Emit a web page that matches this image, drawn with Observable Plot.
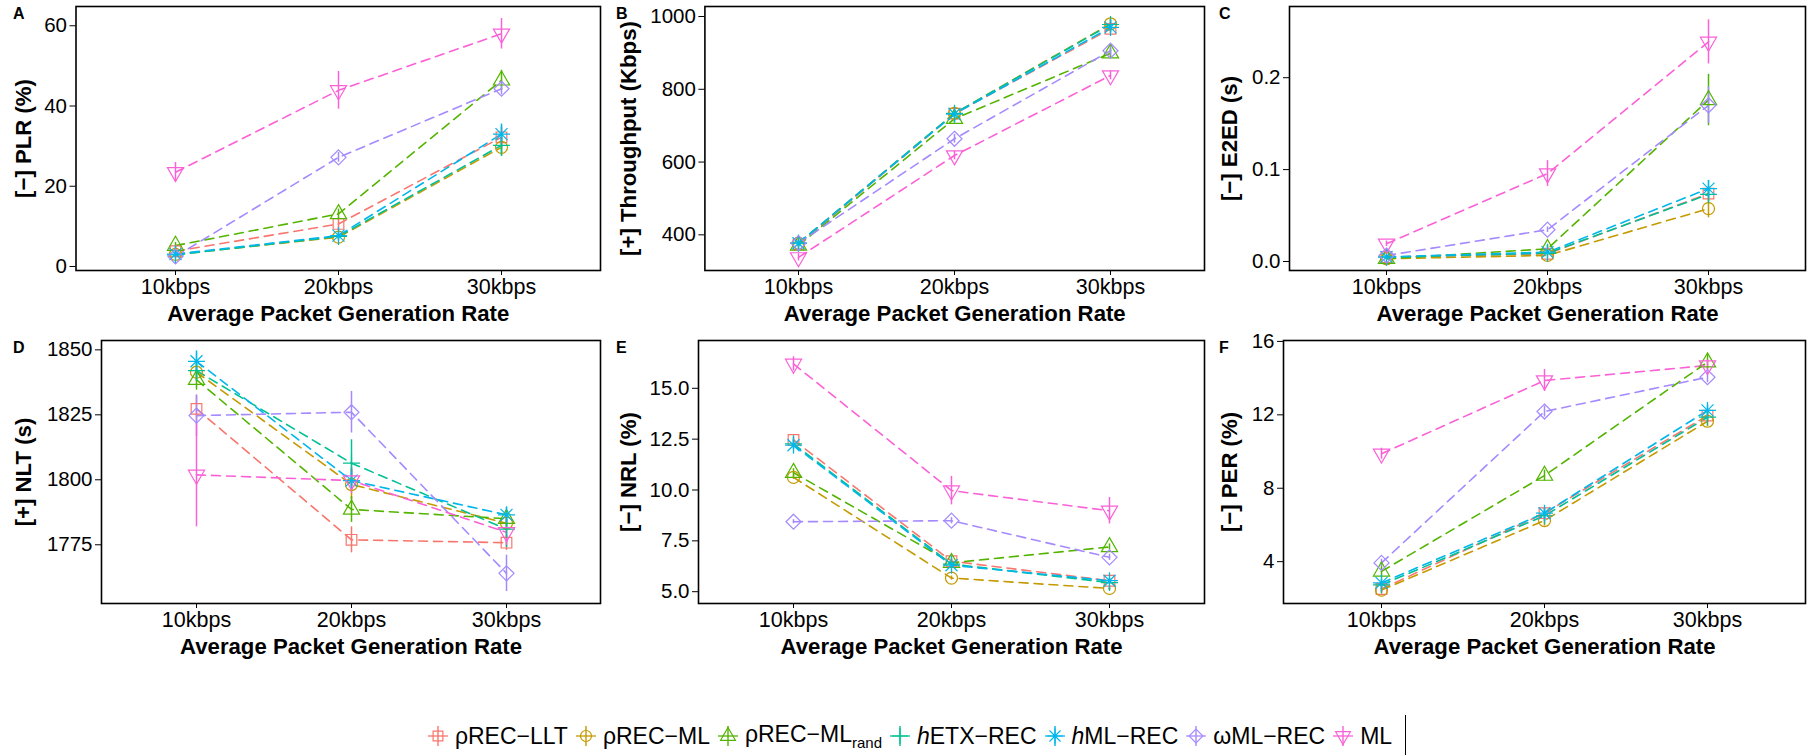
<!DOCTYPE html>
<html><head><meta charset="utf-8">
<script src="https://cdn.jsdelivr.net/npm/d3@7"></script>
<script src="https://cdn.jsdelivr.net/npm/@observablehq/plot@0.6"></script>
<style>
body{margin:0;background:#fff;font-family:"Liberation Sans",Arial,sans-serif;}
#root{position:relative;width:1809px;height:755px;overflow:hidden;background:#fff;}
.panel{position:absolute;}
.letter{position:absolute;font-weight:bold;font-size:16px;line-height:16px;}
svg text{font-family:"Liberation Sans",Arial,sans-serif;}
g[aria-label="x-axis tick label"] text{font-size:21.5px;}
g[aria-label="y-axis tick label"] text{font-size:20.5px;}
g[aria-label="y-axis label"] text, g[aria-label="x-axis label"] text{font-weight:bold;font-size:22.2px;}
#legend{position:absolute;top:716px;left:0;width:1834px;height:40px;display:flex;justify-content:center;align-items:center;font-size:23px;}
.item{display:flex;align-items:center;margin-right:8px;}
.item svg{margin-right:7px;}
.vbar{width:0;height:42px;border-left:1.3px solid #000;margin-left:5px;}
sub{font-size:15px;vertical-align:-6px;}
</style></head>
<body><div id="root"><div id="legend"></div></div>
<script>
const rates = ["10kbps","20kbps","30kbps"];
const series = ["ρREC-LLT","ρREC-ML","ρREC-MLrand","hETX-REC","hML-REC","ωML-REC","ML"];
const colors = ["#F8766D","#C49A00","#53B400","#00C094","#00B6EB","#A58AFF","#FB61D7"];
const legendLabels = ["ρREC−LLT","ρREC−ML","ρREC−ML<sub>rand</sub>","<i>h</i>ETX−REC","<i>h</i>ML−REC","ωML−REC","ML"];

// rows follow series order; columns follow rates
const plrMean = [[3.8,10.6,32.2],[3.0,7.3,29.7],[5.2,13.1,46.4],[2.9,7.5,30.2],[3.1,7.7,33.0],[2.5,27.2,44.3],[23.5,43.9,58.0]];
const plrErr  = [[0.8,1.5,2.5],[0.6,0.8,2.0],[0.8,1.2,2.5],[0.6,0.8,2.8],[0.6,0.8,2.5],[0.5,1.2,1.5],[2.4,4.7,3.8]];
const thrMean = [[374,733,966],[377,734,980],[371,719,899],[377,734,978],[377,732,970],[377,664,906],[338,618,838]];
const thrErr  = [[8,10,12],[8,10,12],[8,12,14],[8,10,12],[8,10,12],[8,12,14],[10,12,12]];
const e2edMean = [[0.0047,0.0084,0.0739],[0.003,0.0066,0.0575],[0.003,0.0138,0.1757],[0.0047,0.009,0.073],[0.005,0.0102,0.0793],[0.0065,0.0346,0.170],[0.0193,0.0957,0.239]];
const e2edErr  = [[0.001,0.002,0.007],[0.001,0.002,0.01],[0.001,0.004,0.028],[0.001,0.002,0.008],[0.001,0.002,0.009],[0.001,0.003,0.02],[0.003,0.014,0.024]];
const nltMean = [[1827.3,1776.9,1775.8],[1841.4,1798.2,1783.3],[1838.5,1788.6,1785.0],[1842.0,1806.4,1781.0],[1845.6,1799.7,1786.5],[1824.7,1826.0,1764.0],[1801.9,1799.7,1779.8]];
const nltErr  = [[5,5,3],[3,6,3],[4,5,3],[4,9,7],[4,4,3],[8,8,7],[20,5,5]];
const nrlMean = [[12.46,6.5,5.54],[10.62,5.67,5.16],[10.85,6.42,7.2],[12.27,6.36,5.45],[12.2,6.3,5.54],[8.44,8.49,6.69],[16.2,9.97,8.98]];
const nrlErr  = [[0.15,0.15,0.1],[0.1,0.1,0.1],[0.2,0.15,0.15],[0.2,0.15,0.1],[0.2,0.15,0.1],[0.1,0.15,0.15],[0.35,0.7,0.65]];
const perMean = [[2.51,6.64,11.96],[2.45,6.24,11.65],[3.47,8.69,14.87],[2.73,6.5,11.87],[2.84,6.64,12.24],[3.93,12.18,14.05],[9.88,13.87,14.69]];
const perErr  = [[0.2,0.3,0.3],[0.2,0.3,0.3],[0.3,0.3,0.4],[0.2,0.3,0.3],[0.2,0.3,0.3],[0.2,0.3,0.3],[0.3,0.6,0.3]];

// ggplot-like open symbols
const draws = [
  (c,r)=>{const h=r*0.886;c.moveTo(-h,-h);c.lineTo(h,-h);c.lineTo(h,h);c.lineTo(-h,h);c.closePath();},
  (c,r)=>{c.moveTo(r,0);c.arc(0,0,r,0,2*Math.PI);},
  (c,r)=>{c.moveTo(0,-1.555*r);c.lineTo(1.347*r,0.778*r);c.lineTo(-1.347*r,0.778*r);c.closePath();},
  (c,r)=>{const a=1.414*r;c.moveTo(-a,0);c.lineTo(a,0);c.moveTo(0,-a);c.lineTo(0,a);},
  (c,r)=>{const a=1.414*r,b=r;c.moveTo(-a,0);c.lineTo(a,0);c.moveTo(0,-a);c.lineTo(0,a);c.moveTo(-b,-b);c.lineTo(b,b);c.moveTo(-b,b);c.lineTo(b,-b);},
  (c,r)=>{const a=1.253*r;c.moveTo(0,-a);c.lineTo(a,0);c.lineTo(0,a);c.lineTo(-a,0);c.closePath();},
  (c,r)=>{c.moveTo(0,1.555*r);c.lineTo(1.347*r,-0.778*r);c.lineTo(-1.347*r,-0.778*r);c.closePath();}
];
const shapes = draws.map(f=>({draw(ctx,size){f(ctx,Math.sqrt(size/Math.PI));}}));

const root = document.getElementById("root");
const panels = [
  {id:"A",mean:plrMean,err:plrErr,label:"[−] PLR (%)",domain:[-1.0,64.8],ticks:[0,20,40,60],fmt:d3.format("d"),col:0,row:0,boxL:75.5,boxR:600},
  {id:"B",mean:thrMean,err:thrErr,label:"[+] Throughput (Kbps)",domain:[302,1027.5],ticks:[400,600,800,1000],fmt:d3.format("d"),col:1,row:0,boxL:704.4,boxR:1204},
  {id:"C",mean:e2edMean,err:e2edErr,label:"[−] E2ED (s)",domain:[-0.0098,0.2775],ticks:[0,0.1,0.2],fmt:d3.format(".1f"),col:2,row:0,boxL:1289,boxR:1805},
  {id:"D",mean:nltMean,err:nltErr,label:"[+] NLT (s)",domain:[1752.4,1853.6],ticks:[1775,1800,1825,1850],fmt:d3.format("d"),col:0,row:1,boxL:101,boxR:600},
  {id:"E",mean:nrlMean,err:nrlErr,label:"[−] NRL (%)",domain:[4.42,17.35],ticks:[5,7.5,10,12.5,15],fmt:d3.format(".1f"),col:1,row:1,boxL:698,boxR:1204},
  {id:"F",mean:perMean,err:perErr,label:"[−] PER (%)",domain:[1.72,16.05],ticks:[4,8,12,16],fmt:d3.format("d"),col:2,row:1,boxL:1283,boxR:1805}
];
const colX = [0,603,1206], titleLeft = [15,620,1221];
// box top / bottom (absolute) per row, and svg top per row
const boxTop = [6,340], boxBottom = [270,603], svgTop = [0,312], bottomSpace = 62;

for (const p of panels) {
  const rows = [];
  series.forEach((s,i)=>rates.forEach((r,j)=>rows.push({s,r,v:p.mean[i][j],e:p.err[i][j]})));
  const left = colX[p.col], top = svgTop[p.row], W = 603;
  const H = boxBottom[p.row] + bottomSpace - top;
  const chart = Plot.plot({
    width: W, height: H,
    marginLeft: p.boxL - left, marginRight: left + W - p.boxR,
    marginTop: boxTop[p.row] - top, marginBottom: bottomSpace,
    style: {fontSize:"20px", fontFamily:"Liberation Sans, Arial, sans-serif", background:"transparent", color:"black", overflow:"visible"},
    x: {type:"point", domain: rates, padding: 0.6},
    y: {domain: p.domain},
    color: {domain: series, range: colors},
    symbol: {domain: series, range: shapes},
    marks: [
      Plot.line(rows, {x:"r", y:"v", z:"s", stroke:"s", strokeWidth:1.6, strokeDasharray:"9,6"}),
      Plot.ruleX(rows, {x:"r", y1:d=>d.v-d.e, y2:d=>d.v+d.e, stroke:"s", strokeWidth:1.5}),
      Plot.dot(rows, {x:"r", y:"v", symbol:"s", stroke:"s", fill:"none", r:6, strokeWidth:1.2}),
      Plot.frame({stroke:"black", strokeWidth:1.6}),
      Plot.axisX({tickSize:5, tickPadding:3, label:"Average Packet Generation Rate", labelAnchor:"center", labelOffset:50, labelArrow:"none"}),
      Plot.axisY({ticks:p.ticks, tickFormat:p.fmt, tickSize:6, tickPadding:3, label:p.label, labelAnchor:"center", labelOffset:p.boxL - titleLeft[p.col], labelArrow:"none"})
    ]
  });
  chart.classList.add("panel");
  chart.style.left = left + "px"; chart.style.top = top + "px";
  root.appendChild(chart);
  const L = document.createElement("div");
  L.className = "letter"; L.textContent = p.id;
  L.style.left = (left + 13) + "px"; L.style.top = (boxTop[p.row]) + "px";
  root.appendChild(L);
}

// legend
const legend = document.getElementById("legend");
series.forEach((s,i)=>{
  const item = document.createElement("div"); item.className = "item";
  const path = d3.path(); draws[i](path, 5.5);
  item.innerHTML = `<svg width="20" height="34" viewBox="-10 -17 20 34"><line x1="-10" x2="10" y1="0" y2="0" stroke="${colors[i]}" stroke-width="1.3"/><line x1="0" x2="0" y1="-10" y2="10" stroke="${colors[i]}" stroke-width="1.4"/><path d="${path}" fill="none" stroke="${colors[i]}" stroke-width="1.2"/></svg><span>${legendLabels[i]}</span>`;
  legend.appendChild(item);
});
const bar = document.createElement("div"); bar.className = "vbar"; legend.appendChild(bar);
</script>
</body></html>
